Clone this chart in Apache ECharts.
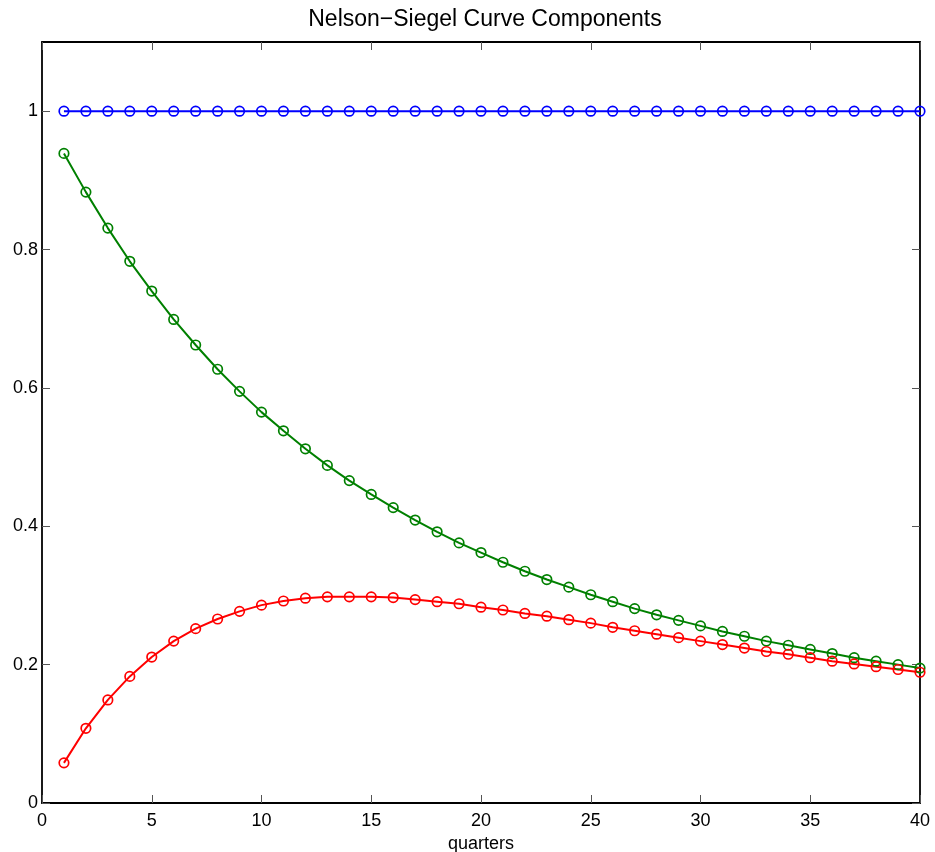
<!DOCTYPE html>
<html>
<head>
<meta charset="utf-8">
<script src="https://cdn.jsdelivr.net/npm/echarts@6/dist/echarts.min.js"></script>
<style>
  html, body { margin: 0; padding: 0; background: #fff; }
  #chart { width: 935px; height: 852px; }
</style>
</head>
<body>
<div id="chart"></div>
<script>
// quarters 1..40
var quarters = [1,2,3,4,5,6,7,8,9,10,11,12,13,14,15,16,17,18,19,20,
  21,22,23,24,25,26,27,28,29,30,31,32,33,34,35,36,37,38,39,40];
// level (blue)
var level = [1,1,1,1,1,1,1,1,1,1,1,1,1,1,1,1,1,1,1,1,
  1,1,1,1,1,1,1,1,1,1,1,1,1,1,1,1,1,1,1,1];
// slope (green)
var slope = [0.939,0.883,0.831,0.783,0.740,0.699,0.662,0.627,0.595,0.565,
  0.538,0.512,0.488,0.466,0.446,0.427,0.409,0.392,0.376,0.362,
  0.348,0.335,0.323,0.312,0.301,0.291,0.281,0.272,0.264,0.256,
  0.248,0.241,0.234,0.228,0.222,0.216,0.210,0.205,0.200,0.195];
// curvature (red)
var curvature = [0.058,0.108,0.149,0.183,0.211,0.234,0.252,0.266,0.277,0.286,
  0.292,0.296,0.298,0.298,0.298,0.297,0.294,0.291,0.288,0.283,
  0.279,0.274,0.270,0.265,0.260,0.254,0.249,0.244,0.239,0.234,
  0.229,0.224,0.219,0.215,0.210,0.205,0.201,0.197,0.193,0.189];
var yTicks = [0, 0.2, 0.4, 0.6, 0.8, 1];

function pairs(vals) {
  return quarters.map(function (q, i) { return [q, vals[i]]; });
}

var font = 'Liberation Sans, Arial, Helvetica, sans-serif';
var chart = echarts.init(document.getElementById('chart'));

var tickStyle = { show: true, inside: true, length: 8, lineStyle: { color: '#555', width: 1 } };
var lineStyle = { show: true, onZero: false, lineStyle: { color: '#000', width: 1.8 } };

function makeSeries(name, color, vals) {
  return {
    name: name,
    type: 'line',
    data: pairs(vals),
    symbol: 'circle',
    symbolSize: 9.5,
    showAllSymbol: true,
    lineStyle: { color: color, width: 2 },
    itemStyle: { color: 'rgba(0,0,0,0)', borderColor: color, borderWidth: 1.7 },
    emphasis: { disabled: true },
    animation: false
  };
}

chart.setOption({
  backgroundColor: '#fff',
  animation: false,
  title: {
    text: 'Nelson\u2212Siegel Curve Components',
    left: 480,
    top: 3,
    textAlign: 'center',
    textStyle: { fontFamily: font, fontSize: 23, fontWeight: 'normal', color: '#000' }
  },
  grid: { left: 42, right: 15, top: 42, bottom: 49, containLabel: false, outerBoundsMode: 'none' },
  xAxis: [{
    type: 'value',
    min: 0, max: 40, interval: 5,
    position: 'bottom',
    name: 'quarters',
    nameLocation: 'middle',
    nameGap: 23,
    nameTextStyle: { fontFamily: font, fontSize: 18, color: '#000' },
    axisLine: lineStyle,
    axisTick: tickStyle,
    splitLine: { show: false },
    axisLabel: { fontFamily: font, fontSize: 18, color: '#000', margin: 9 }
  }, {
    type: 'value',
    min: 0, max: 40, interval: 5,
    position: 'top',
    axisLine: lineStyle,
    axisTick: tickStyle,
    splitLine: { show: false },
    axisLabel: { show: false }
  }],
  yAxis: [{
    type: 'value',
    min: 0, max: 1.1, interval: 0.2,
    position: 'left',
    axisLine: lineStyle,
    axisTick: Object.assign({ customValues: yTicks }, tickStyle),
    splitLine: { show: false },
    axisLabel: {
      fontFamily: font, fontSize: 18, color: '#000', margin: 4,
      customValues: yTicks,
      formatter: function (v) { return String(+(+v).toFixed(1)); }
    }
  }, {
    type: 'value',
    min: 0, max: 1.1, interval: 0.2,
    position: 'right',
    axisLine: lineStyle,
    axisTick: Object.assign({ customValues: yTicks }, tickStyle),
    splitLine: { show: false },
    axisLabel: { show: false }
  }],
  series: [
    makeSeries('level', '#0000ff', level),
    makeSeries('slope', '#008000', slope),
    makeSeries('curvature', '#ff0000', curvature)
  ]
});
</script>
</body>
</html>
